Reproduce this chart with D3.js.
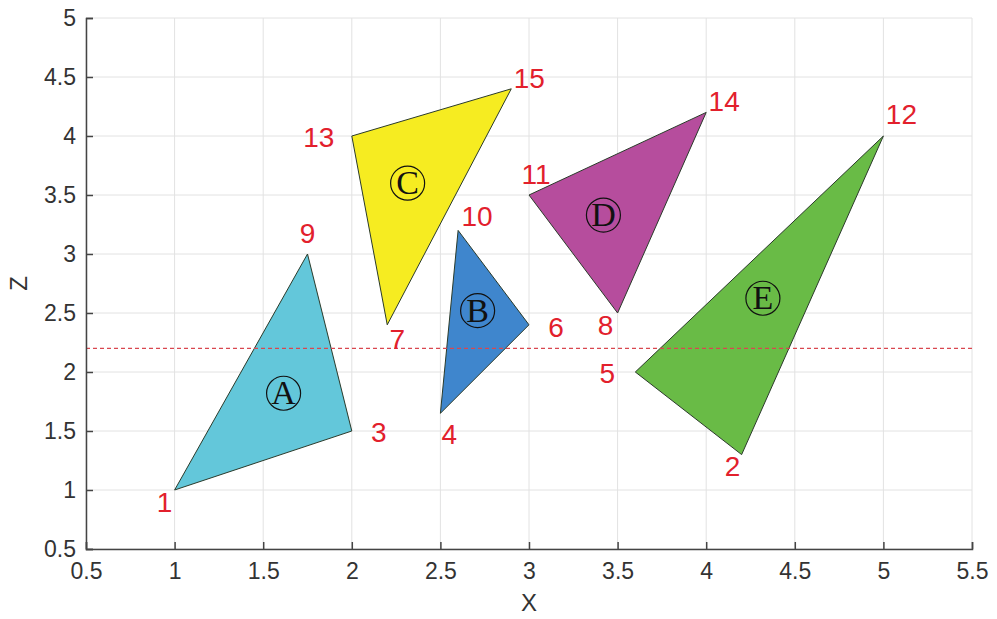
<!DOCTYPE html>
<html>
<head>
<meta charset="utf-8">
<script src="https://cdn.jsdelivr.net/npm/d3@7"></script>
<style>
  body { margin: 0; background: #fff; }
  .tick text { font-family: "Liberation Sans", Arial, sans-serif; font-size: 23px; fill: #333; }
  .grid line { stroke: #e2e2e2; stroke-width: 1; }
</style>
</head>
<body>
<div id="chart"></div>
<script>
// triangle vertices (x, z) with vertex numbers
var triA = [[1, 1], [2, 1.5], [1.75, 3]];
var triB = [[2.5, 1.65], [3, 2.4], [2.6, 3.2]];
var triC = [[2.2, 2.4], [2, 4], [2.9, 4.4]];
var triD = [[3.5, 2.5], [3, 3.5], [4, 4.2]];
var triE = [[4.2, 1.3], [3.6, 2], [5, 4]];
var numsA = [1, 3, 9];
var numsB = [4, 6, 10];
var numsC = [7, 13, 15];
var numsD = [8, 11, 14];
var numsE = [2, 5, 12];
var names = ["A", "B", "C", "D", "E"];
var namePos = [[1.615, 1.82], [2.71, 2.52], [2.315, 3.6], [3.42, 3.33], [4.32, 2.625]];
var colors = ["#63c7da", "#3f86cd", "#f6ec21", "#b64d9d", "#69bb46"];
var refZ = 2.2;
var xTicks = [0.5, 1, 1.5, 2, 2.5, 3, 3.5, 4, 4.5, 5, 5.5];
var zTicks = [0.5, 1, 1.5, 2, 2.5, 3, 3.5, 4, 4.5, 5];

// label offsets in px, keyed by vertex number
var numOffset = {
  1: [-10, 12], 2: [-9, 12], 3: [27, 1], 4: [9, 21], 5: [-28, 1],
  6: [27, 2], 7: [10, 14], 8: [-12, 12], 9: [0, -21], 10: [19, -14],
  11: [7, -21], 12: [18, -22], 13: [-33, 1], 14: [18, -11], 15: [18, -11]
};

var svgWidth = 997;
var svgHeight = 619;
var margin = { top: 18, right: 25, bottom: 70, left: 86 };
var width = svgWidth - margin.left - margin.right;
var height = svgHeight - margin.top - margin.bottom;

var svg = d3.select("#chart").append("svg")
  .attr("width", svgWidth)
  .attr("height", svgHeight);

var g = svg.append("g")
  .attr("transform", `translate(${margin.left}, ${margin.top})`);

var x = d3.scaleLinear().domain([0.5, 5.5]).range([0, width]);
var z = d3.scaleLinear().domain([0.5, 5]).range([height, 0]);

// grid
g.append("g").attr("class", "grid")
  .selectAll("line.v").data(xTicks).enter().append("line")
  .attr("x1", d => x(d)).attr("x2", d => x(d))
  .attr("y1", 0).attr("y2", height);
g.append("g").attr("class", "grid")
  .selectAll("line.h").data(zTicks).enter().append("line")
  .attr("x1", 0).attr("x2", width)
  .attr("y1", d => z(d)).attr("y2", d => z(d));

// triangles
var tris = [triA, triB, triC, triD, triE];
var nums = [numsA, numsB, numsC, numsD, numsE];
var line = d3.line().x(d => x(d[0])).y(d => z(d[1]));

tris.forEach(function(t, i) {
  g.append("path")
    .attr("d", line(t) + "Z")
    .attr("fill", colors[i])
    .attr("stroke", "#2a3a2a")
    .attr("stroke-width", 1);
});

// dashed reference line
g.append("line")
  .attr("x1", 0).attr("x2", width)
  .attr("y1", z(refZ)).attr("y2", z(refZ))
  .attr("stroke", "#d9474f")
  .attr("stroke-width", 1.2)
  .attr("stroke-dasharray", "4,3");

// circled names
names.forEach(function(n, i) {
  var cx = x(namePos[i][0]), cy = z(namePos[i][1]);
  g.append("circle")
    .attr("cx", cx).attr("cy", cy).attr("r", 17)
    .attr("fill", "none")
    .attr("stroke", "#111")
    .attr("stroke-width", 1.2);
  g.append("text")
    .attr("x", cx).attr("y", cy + 11)
    .attr("text-anchor", "middle")
    .attr("font-family", "'Liberation Serif', 'DejaVu Serif', serif")
    .attr("font-size", "34px")
    .attr("fill", "#111")
    .text(n);
});

// vertex numbers
tris.forEach(function(t, i) {
  t.forEach(function(p, j) {
    var n = nums[i][j];
    var off = numOffset[n];
    g.append("text")
      .attr("x", x(p[0]) + off[0])
      .attr("y", z(p[1]) + off[1])
      .attr("dy", "0.35em")
      .attr("text-anchor", "middle")
      .attr("font-family", "'Liberation Sans', Arial, sans-serif")
      .attr("font-size", "28px")
      .attr("fill", "#e2202c")
      .text(n);
  });
});

// axes
var bottomAxis = d3.axisBottom(x).tickValues(xTicks).tickSize(-7).tickPadding(14)
  .tickFormat(d3.format("~g"));
var leftAxis = d3.axisLeft(z).tickValues(zTicks).tickSize(-7).tickPadding(10)
  .tickFormat(d3.format("~g"));

var bx = g.append("g")
  .attr("transform", `translate(0, ${height})`)
  .call(bottomAxis);
var lx = g.append("g").call(leftAxis);
[bx, lx].forEach(function(a) {
  a.select(".domain").attr("stroke", "#444").attr("stroke-width", 1.5);
  a.selectAll(".tick line").attr("stroke", "#444").attr("stroke-width", 1.5);
});

// axis labels
g.append("text")
  .attr("x", width / 2)
  .attr("y", height + 62)
  .attr("text-anchor", "middle")
  .attr("font-family", "'Liberation Sans', Arial, sans-serif")
  .attr("font-size", "24px")
  .attr("fill", "#333")
  .text("X");

g.append("text")
  .attr("transform", `translate(${-margin.left + 27}, ${height / 2}) rotate(-90)`)
  .attr("text-anchor", "middle")
  .attr("font-family", "'Liberation Sans', Arial, sans-serif")
  .attr("font-size", "24px")
  .attr("fill", "#333")
  .text("Z");
</script>
</body>
</html>
